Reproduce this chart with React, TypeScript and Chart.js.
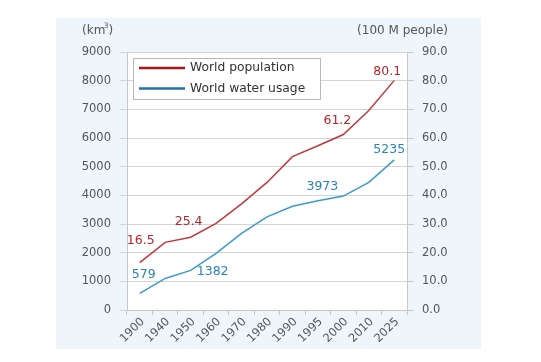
import React, { useEffect, useRef } from "react";
import { Chart, registerables } from "chart.js";

Chart.register(...registerables);

const years = ["1900", "1940", "1950", "1960", "1970", "1980", "1990", "1995", "2000", "2010", "2025"];
const population = [16.5, 23.6, 25.4, 30.2, 37.0, 44.5, 53.5, 57.3, 61.2, 69.6, 80.1];
const waterUsage = [579, 1100, 1382, 1975, 2670, 3250, 3620, 3810, 3973, 4450, 5235];
const leftTicks = [0, 1000, 2000, 3000, 4000, 5000, 6000, 7000, 8000, 9000];
const rightTicks = [0, 10, 20, 30, 40, 50, 60, 70, 80, 90];
const popLabelIdx = [0, 2, 8, 10];
const waterLabelIdx = [0, 2, 8, 10];
const seriesNames = ["World population", "World water usage"];
const unitLeft = ["(km", "3", ")"];
const unitRight = "(100 M people)";

const RED = "#c0393d";
const RED_TXT = "#b3262a";
const RED_LEG = "#a8141a";
const BLUE = "#3b9bcc";
const BLUE_TXT = "#2a82b6";
const BLUE_LEG = "#1f72aa";
const GRAY_TXT = "#555555";
const FONT = "'DejaVu Sans', Verdana, sans-serif";

const decorPlugin = {
  id: "decor",
  beforeDraw(chart: any) {
    const ctx = chart.ctx;
    ctx.save();
    ctx.fillStyle = "#ffffff";
    ctx.fillRect(0, 0, chart.width, chart.height);
    ctx.fillStyle = "#eef6fc";
    ctx.fillRect(56, 18, 425, 331);
    const a = chart.chartArea;
    ctx.fillStyle = "#ffffff";
    ctx.fillRect(a.left, a.top, a.right - a.left, a.bottom - a.top);
    ctx.restore();
  },
  afterDraw(chart: any) {
    const ctx = chart.ctx;
    const a = chart.chartArea;
    ctx.save();
    // units
    ctx.fillStyle = GRAY_TXT;
    ctx.textBaseline = "middle";
    ctx.font = `12px ${FONT}`;
    let x = 82;
    const uy = 31;
    ctx.textAlign = "left";
    ctx.fillText(unitLeft[0], x, uy);
    x += ctx.measureText(unitLeft[0]).width;
    ctx.font = `7.5px ${FONT}`;
    ctx.fillText(unitLeft[1], x - 1.5, uy - 5);
    x += ctx.measureText(unitLeft[1]).width - 1.5;
    ctx.font = `12px ${FONT}`;
    ctx.fillText(unitLeft[2], x, uy);
    ctx.textAlign = "right";
    ctx.fillText(unitRight, 448, uy);

    // data labels
    ctx.font = `12.5px ${FONT}`;
    ctx.textAlign = "center";
    const popMeta = chart.getDatasetMeta(0);
    const watMeta = chart.getDatasetMeta(1);
    const popOff: Record<number, [number, number]> = { 0: [1, -22], 2: [-2, -15], 8: [-6, -14], 10: [-7, -9] };
    const watOff: Record<number, [number, number]> = { 0: [4, -19], 2: [22, 1], 8: [-21, -9], 10: [-5, -10] };
    ctx.fillStyle = RED_TXT;
    popLabelIdx.forEach((i) => {
      const p = popMeta.data[i];
      const o = popOff[i];
      ctx.fillText(population[i].toFixed(1), p.x + o[0], p.y + o[1]);
    });
    ctx.fillStyle = BLUE_TXT;
    waterLabelIdx.forEach((i) => {
      const p = watMeta.data[i];
      const o = watOff[i];
      ctx.fillText(String(waterUsage[i]), p.x + o[0], p.y + o[1]);
    });

    // legend
    const lx = a.left + 6;
    const ly = a.top + 6;
    const lw = 187;
    const lh = 41;
    ctx.fillStyle = "#ffffff";
    ctx.fillRect(lx, ly, lw, lh);
    ctx.strokeStyle = "#b8b8b8";
    ctx.lineWidth = 1;
    ctx.strokeRect(lx + 0.5, ly + 0.5, lw, lh);
    const legColors = [RED_LEG, BLUE_LEG];
    ctx.font = `12.3px ${FONT}`;
    ctx.textAlign = "left";
    seriesNames.forEach((name, i) => {
      const yy = ly + 10 + i * 20.5;
      ctx.strokeStyle = legColors[i];
      ctx.lineWidth = 2.5;
      ctx.beginPath();
      ctx.moveTo(lx + 6, yy);
      ctx.lineTo(lx + 52, yy);
      ctx.stroke();
      ctx.fillStyle = "#333333";
      ctx.fillText(name, lx + 57, yy);
    });
    ctx.restore();
  },
};

export default function App() {
  const ref = useRef<HTMLCanvasElement | null>(null);
  useEffect(() => {
    if (!ref.current) return;
    const chart = new Chart(ref.current, {
      type: "line",
      data: {
        labels: years,
        datasets: [
          {
            label: seriesNames[0],
            data: population,
            borderColor: RED,
            borderWidth: 1.5,
            pointRadius: 0,
            tension: 0,
            yAxisID: "y1",
          },
          {
            label: seriesNames[1],
            data: waterUsage,
            borderColor: BLUE,
            borderWidth: 1.5,
            pointRadius: 0,
            tension: 0,
            yAxisID: "y",
          },
        ],
      },
      options: {
        responsive: false,
        animation: false,
        events: [],
        layout: { padding: { top: 52, left: 0, right: 0, bottom: 0 } },
        plugins: { legend: { display: false }, tooltip: { enabled: false } },
        scales: {
          x: {
            offset: true,
            grid: { offset: true, drawOnChartArea: false, tickLength: 5, color: "#c8c8c8" },
            border: { color: "#c8c8c8" },
            ticks: {
              minRotation: 45,
              maxRotation: 45,
              padding: 0,
              labelOffset: 3,
              color: GRAY_TXT,
              font: { family: FONT, size: 11.5 },
            },
            afterFit(scale: any) {
              scale.height = 52;
            },
          },
          y: {
            position: "left",
            min: 0,
            max: 9000,
            afterBuildTicks(scale: any) {
              scale.ticks = leftTicks.map((v) => ({ value: v }));
            },
            grid: { color: "#d4d4d4", tickLength: 7 },
            border: { color: "#c8c8c8" },
            ticks: {
              padding: 9,
              color: GRAY_TXT,
              font: { family: FONT, size: 11.5 },
              callback: (v: any) => String(v),
            },
            afterFit(scale: any) {
              scale.width = 127;
            },
          },
          y1: {
            position: "right",
            min: 0,
            max: 90,
            afterBuildTicks(scale: any) {
              scale.ticks = rightTicks.map((v) => ({ value: v }));
            },
            grid: { drawOnChartArea: false, color: "#c8c8c8", tickLength: 7 },
            border: { color: "#c8c8c8" },
            ticks: {
              padding: 8,
              color: GRAY_TXT,
              font: { family: FONT, size: 11.5 },
              callback: (v: any) => Number(v).toFixed(1),
            },
            afterFit(scale: any) {
              scale.width = 134;
            },
          },
        },
      },
      plugins: [decorPlugin],
    });
    return () => chart.destroy();
  }, []);
  return (
    <div style={{ position: "fixed", left: 0, top: 0, width: 541, height: 362, background: "#fff" }}>
      <canvas ref={ref} width={541} height={362} style={{ display: "block" }} />
    </div>
  );
}
